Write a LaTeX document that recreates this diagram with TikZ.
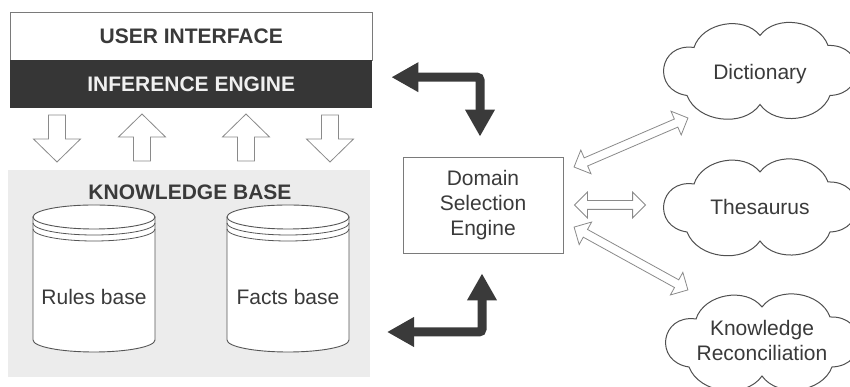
\documentclass[tikz,border=0pt]{standalone}
\usepackage{fontspec}
\setmainfont{Liberation Sans}
\usetikzlibrary{arrows.meta,shapes.arrows,calc}
\definecolor{ink}{HTML}{3A3A3A}
\definecolor{band}{HTML}{363636}
\definecolor{bandtxt}{HTML}{F0F0F0}
\definecolor{boxc}{HTML}{7A7A7A}
\definecolor{hollowc}{HTML}{8A8A8A}
\definecolor{cloudc}{HTML}{505050}
\definecolor{cylc}{HTML}{555555}
\definecolor{kbfill}{HTML}{ECECEC}
\begin{document}
\begin{tikzpicture}[x=1pt,y=1pt,
  txt/.style={font=\fontsize{21}{25}\selectfont, text=ink, align=center, inner sep=0pt},
  hd/.style={font=\fontsize{21}{25}\selectfont\bfseries, text=ink},
  bigarrow/.style={draw=ink, line width=9pt, rounded corners=3pt,
    {Triangle[length=27pt,width=28pt]}-{Triangle[length=27pt,width=28pt]}},
  harrow/.style={double arrow, draw=hollowc, fill=white, line width=0.8pt,
    inner sep=4pt, double arrow head extend=8.5pt, double arrow tip angle=90,
    minimum height=#1},
  blk/.pic={\draw[draw=hollowc, fill=white, line width=0.8pt]
    (-8.5,-24) -- (-8.5,0) -- (-23.5,0) -- (0,23) -- (23.5,0) -- (8.5,0) -- (8.5,-24) -- cycle;},
  cloudshape/.pic={\draw[draw=cloudc, line width=1pt, fill=white]
    (0,36) to[bend right=62] (-66,24) to[bend right=90,looseness=1.9] (-73,-24)
    to[bend right=62] (0,-33) to[bend right=62] (70,-24)
    to[bend right=90,looseness=1.9] (68,26) to[bend right=62] (0,36) -- cycle;},
  dbcyl/.pic={
    \fill[white] (-61,0) arc[start angle=180,end angle=360,x radius=61,y radius=12]
      -- (61,123) arc[start angle=0,end angle=180,x radius=61,y radius=12] -- cycle;
    \draw[cylc, line width=0.9pt] (-61,123) -- (-61,0)
      arc[start angle=180,end angle=360,x radius=61,y radius=12] -- (61,123);
    \draw[cylc, line width=0.9pt] (0,123) ellipse [x radius=61, y radius=12];
    \draw[cylc, line width=0.8pt] (-61,117) arc[start angle=180,end angle=360,x radius=61,y radius=12];
    \draw[cylc, line width=0.8pt] (-61,111) arc[start angle=180,end angle=360,x radius=61,y radius=12];
  }
]
\useasboundingbox (0,0) rectangle (850,387);
\clip (0,0) rectangle (850,387);

% top block
\node[hd, draw=boxc, fill=white, minimum width=362pt, minimum height=48pt,
  anchor=north west, inner sep=0pt] (ui) at (10,375) {USER INTERFACE};
\node[hd, fill=band, text=bandtxt, minimum width=362pt, minimum height=48pt,
  anchor=north west, inner sep=0pt] (ie) at (10,327) {INFERENCE ENGINE};

% hollow block arrows
\pic[rotate=180] at (57,248) {blk};
\pic at (142,250) {blk};
\pic at (246,250) {blk};
\pic[rotate=180] at (330,248) {blk};

% knowledge base
\node[fill=kbfill, minimum width=362pt, minimum height=207pt, anchor=south west,
  inner sep=0pt] (kb) at (8,10) {};
\node[hd] (kbt) at (190,195) {KNOWLEDGE BASE};
\pic at (94,47) {dbcyl};
\pic at (288,47) {dbcyl};
\node[txt] (rules) at (94,90) {Rules base};
\node[txt] (facts) at (288,90) {Facts base};

% domain selection engine
\node[txt, draw=boxc, line width=0.8pt, minimum width=160pt, minimum height=96pt]
  (dse) at (483,182) {Domain\\Selection\\Engine};

% clouds
\pic at (760,315.5) {cloudshape};
\node[txt] (dict) at (760,313) {Dictionary};
\pic at (760,179) {cloudshape};
\node[txt] (thes) at (760,180) {Thesaurus};
\pic at (762,44) {cloudshape};
\node[txt] (krec) at (762,47) {Knowledge\\Reconciliation};

% hollow double arrows
\node[harrow=124pt, rotate=23.3] (h1) at (631,244.5) {};
\node[harrow=71pt] (h2) at (610,182) {};
\node[harrow=130pt, rotate=-28.9] (h3) at (631,128.5) {};

% thick arrows
\draw[bigarrow, shorten <=19pt, shorten >=20pt] ([yshift=7pt]ie.east) -| ([xshift=-3pt]dse.north);
\coordinate (kbtip) at (387,55);
\draw[bigarrow, shorten <=20pt] ([xshift=-1pt]dse.south) |- (kbtip);
\end{tikzpicture}
\end{document}
